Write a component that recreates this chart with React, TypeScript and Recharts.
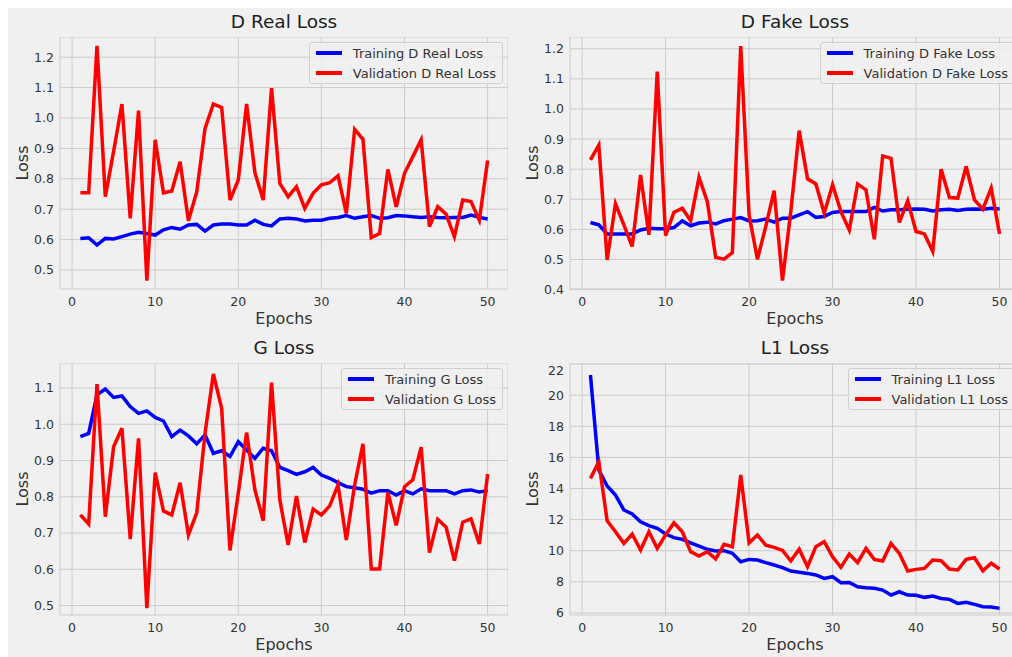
import React from 'react';
import { LineChart, Line, XAxis, YAxis, CartesianGrid } from 'recharts';

const epochs = [1, 2, 3, 4, 5, 6, 7, 8, 9, 10, 11, 12, 13, 14, 15, 16, 17, 18, 19, 20, 21, 22, 23, 24, 25, 26, 27, 28, 29, 30, 31, 32, 33, 34, 35, 36, 37, 38, 39, 40, 41, 42, 43, 44, 45, 46, 47, 48, 49, 50];
const xTicks = [0, 10, 20, 30, 40, 50];

const trainDReal = [0.604, 0.606, 0.582, 0.604, 0.602, 0.610, 0.618, 0.624, 0.620, 0.615, 0.632, 0.640, 0.634, 0.648, 0.650, 0.628, 0.648, 0.651, 0.651, 0.648, 0.648, 0.664, 0.650, 0.645, 0.668, 0.670, 0.668, 0.661, 0.664, 0.664, 0.670, 0.673, 0.679, 0.670, 0.675, 0.679, 0.670, 0.672, 0.679, 0.678, 0.675, 0.673, 0.675, 0.673, 0.672, 0.673, 0.673, 0.681, 0.673, 0.668];
const valDReal = [0.754, 0.754, 1.237, 0.741, 0.890, 1.046, 0.670, 1.024, 0.465, 0.928, 0.754, 0.760, 0.856, 0.662, 0.757, 0.966, 1.046, 1.035, 0.730, 0.796, 1.046, 0.820, 0.730, 1.098, 0.785, 0.741, 0.774, 0.703, 0.752, 0.780, 0.787, 0.810, 0.686, 0.963, 0.930, 0.607, 0.620, 0.831, 0.708, 0.818, 0.873, 0.928, 0.643, 0.708, 0.684, 0.610, 0.730, 0.725, 0.664, 0.860];

const trainDFake = [0.623, 0.615, 0.585, 0.585, 0.585, 0.585, 0.598, 0.604, 0.602, 0.602, 0.606, 0.628, 0.612, 0.621, 0.624, 0.618, 0.629, 0.634, 0.639, 0.628, 0.629, 0.634, 0.624, 0.637, 0.637, 0.648, 0.659, 0.640, 0.643, 0.656, 0.659, 0.659, 0.659, 0.659, 0.673, 0.661, 0.665, 0.665, 0.667, 0.668, 0.667, 0.661, 0.665, 0.667, 0.663, 0.667, 0.668, 0.667, 0.670, 0.668];
const valDFake = [0.831, 0.880, 0.499, 0.685, 0.615, 0.543, 0.781, 0.582, 1.124, 0.579, 0.657, 0.670, 0.629, 0.773, 0.692, 0.507, 0.501, 0.523, 1.209, 0.648, 0.501, 0.610, 0.729, 0.430, 0.660, 0.928, 0.768, 0.751, 0.654, 0.748, 0.659, 0.598, 0.751, 0.731, 0.567, 0.844, 0.836, 0.623, 0.695, 0.593, 0.585, 0.527, 0.800, 0.706, 0.704, 0.809, 0.698, 0.667, 0.737, 0.585];

const trainG = [0.966, 0.975, 1.081, 1.097, 1.074, 1.078, 1.049, 1.030, 1.037, 1.019, 1.009, 0.966, 0.984, 0.968, 0.946, 0.971, 0.920, 0.927, 0.911, 0.952, 0.929, 0.906, 0.934, 0.927, 0.881, 0.872, 0.862, 0.869, 0.881, 0.860, 0.851, 0.839, 0.828, 0.825, 0.821, 0.810, 0.817, 0.817, 0.805, 0.817, 0.808, 0.822, 0.817, 0.817, 0.817, 0.808, 0.817, 0.819, 0.813, 0.817];
const valG = [0.750, 0.725, 1.111, 0.745, 0.938, 0.989, 0.683, 0.961, 0.493, 0.867, 0.761, 0.750, 0.839, 0.695, 0.756, 0.975, 1.139, 1.044, 0.652, 0.810, 0.977, 0.819, 0.734, 1.115, 0.791, 0.667, 0.802, 0.674, 0.766, 0.750, 0.775, 0.833, 0.681, 0.833, 0.946, 0.601, 0.601, 0.812, 0.721, 0.828, 0.847, 0.937, 0.646, 0.738, 0.716, 0.624, 0.730, 0.739, 0.670, 0.863];

const trainL1 = [21.3, 15.19, 14.16, 13.58, 12.62, 12.36, 11.86, 11.61, 11.44, 11.07, 10.84, 10.73, 10.51, 10.30, 10.09, 9.98, 10.0, 9.83, 9.29, 9.44, 9.40, 9.23, 9.08, 8.91, 8.69, 8.61, 8.54, 8.44, 8.22, 8.33, 7.94, 7.96, 7.68, 7.62, 7.58, 7.47, 7.15, 7.36, 7.15, 7.13, 7.00, 7.08, 6.93, 6.87, 6.61, 6.68, 6.55, 6.40, 6.38, 6.29];
const valL1 = [14.65, 15.72, 11.93, 11.22, 10.47, 11.07, 10.04, 11.22, 10.15, 11.01, 11.80, 11.22, 9.94, 9.66, 9.94, 9.46, 10.41, 10.26, 14.87, 10.51, 11.01, 10.36, 10.21, 10.02, 9.35, 10.10, 8.97, 10.26, 10.58, 9.61, 8.93, 9.79, 9.23, 10.15, 9.44, 9.34, 10.47, 9.83, 8.69, 8.80, 8.86, 9.40, 9.36, 8.82, 8.76, 9.44, 9.55, 8.71, 9.19, 8.82];

const dRealTicks = [0.5, 0.6, 0.7, 0.8, 0.9, 1.0, 1.1, 1.2];
const dFakeTicks = [0.4, 0.5, 0.6, 0.7, 0.8, 0.9, 1.0, 1.1, 1.2];
const gTicks = [0.5, 0.6, 0.7, 0.8, 0.9, 1.0, 1.1];
const l1Ticks = [6, 8, 10, 12, 14, 16, 18, 20, 22];

const FONT = '"DejaVu Sans", Verdana, sans-serif';
const TEXT = '#333333';

type PanelProps = {
  plotLeft: number;
  plotTop: number;
  plotW: number;
  plotH: number;
  yDomain: [number, number];
  yTicks: number[];
  yFmt: (v: number) => string;
  train: number[];
  val: number[];
  title: string;
  trainLabel: string;
  valLabel: string;
};

function Panel(p: PanelProps) {
  const yW = 60;
  const xH = 30;
  const data = epochs.map((e, i) => ({ epoch: e, train: p.train[i], val: p.val[i] }));
  const cx = p.plotLeft + p.plotW / 2;
  const cy = p.plotTop + p.plotH / 2;
  const bottom = p.plotTop + p.plotH;
  const tickStyle = { fontSize: 12.5, fill: TEXT, fontFamily: FONT };
  return (
    <>
      <div style={{ position: 'absolute', left: p.plotLeft - yW, top: p.plotTop }}>
        <LineChart width={yW + p.plotW} height={p.plotH + xH} data={data} margin={{ top: 0, right: 0, bottom: 0, left: 0 }}>
          <CartesianGrid stroke="#cbcbcb" strokeWidth={1} />
          <XAxis
            dataKey="epoch"
            type="number"
            domain={[-1.45, 52.45]}
            ticks={xTicks}
            allowDataOverflow
            axisLine={false}
            tickLine={false}
            tickSize={0}
            tickMargin={8}
            height={xH}
            tick={tickStyle}
          />
          <YAxis
            type="number"
            domain={p.yDomain}
            ticks={p.yTicks}
            tickFormatter={p.yFmt}
            allowDataOverflow
            width={yW}
            axisLine={false}
            tickLine={false}
            tickSize={0}
            tickMargin={6}
            tick={tickStyle}
          />
          <Line dataKey="train" type="linear" stroke="#0000ff" strokeWidth={3.5} dot={false} isAnimationActive={false} />
          <Line dataKey="val" type="linear" stroke="#ff0000" strokeWidth={3.5} dot={false} isAnimationActive={false} />
        </LineChart>
      </div>
      <div style={{ position: 'absolute', left: cx - 150, width: 300, top: p.plotTop - 27, textAlign: 'center', fontFamily: FONT, fontSize: 18.5, color: '#222', lineHeight: '24px', whiteSpace: 'nowrap' }}>{p.title}</div>
      <div style={{ position: 'absolute', left: cx - 100, width: 200, top: bottom + 20, textAlign: 'center', fontFamily: FONT, fontSize: 16, color: TEXT, lineHeight: '20px' }}>Epochs</div>
      <div style={{ position: 'absolute', left: p.plotLeft - 37 - 40, top: cy - 10, width: 80, textAlign: 'center', fontFamily: FONT, fontSize: 16, color: TEXT, lineHeight: '20px', transform: 'rotate(-90deg)' }}>Loss</div>
      <div style={{ position: 'absolute', right: 1012 - (p.plotLeft + p.plotW - 5), top: p.plotTop + 5, background: 'rgba(240,240,240,0.85)', border: '1px solid #d0d0d0', borderRadius: 3, padding: '0px 6px 0px 6px', fontFamily: FONT, fontSize: 13, color: TEXT, whiteSpace: 'nowrap' }}>
        {[['#0000ff', p.trainLabel], ['#ff0000', p.valLabel]].map(([c, l]) => (
          <div key={l} style={{ display: 'flex', alignItems: 'center', height: 20 }}>
            <div style={{ width: 26, height: 4, background: c, marginRight: 11 }} />
            <span>{l}</span>
          </div>
        ))}
      </div>
    </>
  );
}

const f1 = (v: number) => v.toFixed(1);
const f0 = (v: number) => String(Math.round(v));

export default function App() {
  return (
    <div style={{ position: 'fixed', left: 0, top: 0, width: 1012, height: 657, background: '#ffffff', overflow: 'hidden' }}>
      <div style={{ position: 'absolute', left: 8, top: 8, right: 0, bottom: 0, background: '#f0f0f0' }} />
      <Panel plotLeft={60} plotTop={37} plotW={448} plotH={252} yDomain={[0.4375, 1.2664]} yTicks={dRealTicks} yFmt={f1}
        train={trainDReal} val={valDReal} title="D Real Loss" trainLabel="Training D Real Loss" valLabel="Validation D Real Loss" />
      <Panel plotLeft={570} plotTop={37} plotW={450} plotH={252} yDomain={[0.402, 1.239]} yTicks={dFakeTicks} yFmt={f1}
        train={trainDFake} val={valDFake} title="D Fake Loss" trainLabel="Training D Fake Loss" valLabel="Validation D Fake Loss" />
      <Panel plotLeft={60} plotTop={363} plotW={448} plotH={252} yDomain={[0.474, 1.169]} yTicks={gTicks} yFmt={f1}
        train={trainG} val={valG} title="G Loss" trainLabel="Training G Loss" valLabel="Validation G Loss" />
      <Panel plotLeft={570} plotTop={363} plotW={450} plotH={252} yDomain={[5.865, 22.07]} yTicks={l1Ticks} yFmt={f0}
        train={trainL1} val={valL1} title="L1 Loss" trainLabel="Training L1 Loss" valLabel="Validation L1 Loss" />
    </div>
  );
}
